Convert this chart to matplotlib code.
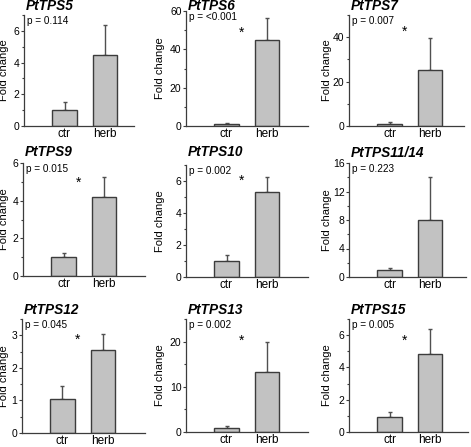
import numpy as np
import matplotlib
matplotlib.use("Agg")
import matplotlib.pyplot as plt
from matplotlib.ticker import MultipleLocator

plt.rcParams['font.family'] = ['Liberation Sans', 'DejaVu Sans']

genes = ["PtTPS5", "PtTPS6", "PtTPS7", "PtTPS9", "PtTPS10", "PtTPS11/14",
         "PtTPS12", "PtTPS13", "PtTPS15"]
groups = ["ctr", "herb"]
ctr_mean = [1.0, 1.0, 1.0, 1.0, 1.0, 1.0, 1.05, 0.96, 0.95]
ctr_err = [0.5, 0.5, 0.6, 0.24, 0.37, 0.3, 0.4, 0.45, 0.27]
herb_mean = [4.5, 44.7, 25.1, 4.22, 5.3, 8.05, 2.56, 13.3, 4.84]
herb_err = [1.9, 11.5, 14.5, 1.03, 0.95, 5.95, 0.47, 6.6, 1.53]
pvals = ["0.114", "<0.001", "0.007", "0.015", "0.002", "0.223", "0.045", "0.002", "0.005"]
star_y = [None, 48.5, 42.5, 4.96, 6.0, None, 2.87, 20.2, 5.67]
y_max = [7, 60, 50, 6, 7, 16, 3.5, 25, 7]
y_step = [2, 20, 20, 2, 2, 4, 1, 10, 2]

W, H = 471, 447
fig = plt.figure(figsize=(W / 100, H / 100), dpi=100)

# axes boxes in pixels: left, right, top, bottom
boxes = [(24, 134, 15, 126), (186, 308, 11, 126), (349, 464, 15, 126),
         (23, 145, 163, 276), (186, 308, 165, 277), (349, 466, 163, 277),
         (22, 145, 319, 433), (186, 308, 319, 432), (349, 468, 319, 432)]
title_base = [10, 10, 10, 156, 156.5, 157, 314, 314, 313.5]
label_x = [9, 165, 332]  # right edge of y label per column, px
unit = 40.5  # px per x unit

edge = '#3c3c3c'
for i, g in enumerate(genes):
    l, r, t, b = boxes[i]
    ax = fig.add_axes([l / W, 1 - b / H, (r - l) / W, (b - t) / H])
    x = np.arange(1, len(groups) + 1)
    means = [ctr_mean[i], herb_mean[i]]
    errs = [ctr_err[i], herb_err[i]]
    ax.bar(x, means, width=0.6, color='#c2c2c2', edgecolor=edge, linewidth=1.0, zorder=2)
    ax.errorbar(x, means, yerr=[[0, 0], errs], fmt='none', ecolor='#505050',
                elinewidth=1.0, capsize=1.5, capthick=1.0, zorder=1)
    ax.set_xlim(0, (r - l) / unit)
    ax.set_ylim(0, y_max[i])
    ax.set_xticks(x)
    ax.set_xticklabels(groups, fontsize=8.5)
    ax.tick_params(axis='x', length=0, pad=1.5)
    ax.yaxis.set_major_locator(MultipleLocator(y_step[i]))
    ax.yaxis.set_minor_locator(MultipleLocator(y_step[i] / 2))
    ax.tick_params(axis='y', which='major', length=2.2, width=0.8, color=edge, labelsize=7.5, pad=1)
    ax.tick_params(axis='y', which='minor', length=1.5, width=0.8, color=edge)
    for s in ['top', 'right']:
        ax.spines[s].set_visible(False)
    for s in ['left', 'bottom']:
        ax.spines[s].set_color(edge)
        ax.spines[s].set_linewidth(0.9)
    ax.set_ylabel("Fold change", fontsize=8)
    ax.yaxis.set_label_coords((label_x[i % 3] - l) / (r - l), 0.5)
    fig.text((l + 2) / W, 1 - title_base[i] / H, g, fontsize=9.8, fontweight='bold',
             fontstyle='italic', ha='left', va='baseline')
    ax.annotate("p = " + pvals[i], xy=(0, 1), xycoords='axes fraction', xytext=(2, -4),
                textcoords='offset points', fontsize=7.2, ha='left', va='center')
    if star_y[i] is not None:
        ax.text(1.36, star_y[i], "*", fontsize=10, ha='center', va='center')

fig.savefig("out.png", dpi=100)
